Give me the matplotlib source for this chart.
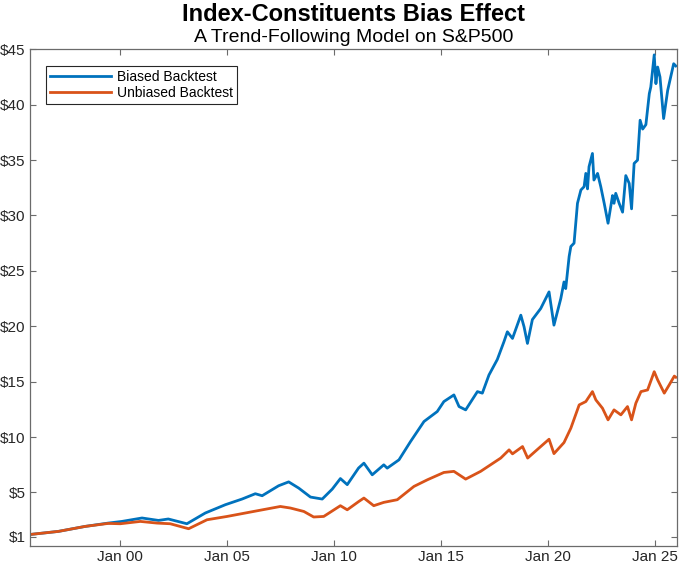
import numpy as np
import matplotlib.pyplot as plt

plt.rcParams['font.family'] = ['Liberation Sans', 'DejaVu Sans']

# values (decimal year, $ growth of $1)
biased_year = [1995.78, 1997.11, 1998.36, 1999.44, 2000.08, 2001.02, 2001.79, 2002.25,
               2003.12, 2003.98, 2004.92, 2005.70, 2006.32, 2006.64, 2007.41, 2007.88,
               2008.35, 2008.90, 2009.45, 2009.92, 2010.30, 2010.62, 2011.15, 2011.40,
               2011.79, 2012.33, 2012.49, 2013.04, 2013.58, 2014.21, 2014.83, 2015.14,
               2015.61, 2015.85, 2016.16, 2016.71, 2016.94, 2017.25, 2017.64, 2017.95,
               2018.11, 2018.35, 2018.74, 2018.89, 2019.05, 2019.28, 2019.67, 2020.06,
               2020.29, 2020.61, 2020.76, 2020.84, 2021.00, 2021.08, 2021.23, 2021.39,
               2021.55, 2021.70, 2021.78, 2021.86, 2021.93, 2022.09, 2022.16, 2022.33,
               2022.48, 2022.64, 2022.82, 2023.03, 2023.10, 2023.18, 2023.34, 2023.50,
               2023.65, 2023.81, 2023.92, 2024.04, 2024.20, 2024.32, 2024.44, 2024.59,
               2024.75, 2024.82, 2024.98, 2025.06, 2025.14, 2025.25, 2025.42, 2025.61,
               2025.89, 2025.99]
biased_value = [1.2, 1.48, 1.93, 2.23, 2.38, 2.69, 2.47, 2.6,
                2.17, 3.14, 3.89, 4.4, 4.88, 4.7, 5.6, 5.95,
                5.39, 4.58, 4.4, 5.3, 6.25, 5.7, 7.2, 7.64,
                6.59, 7.49, 7.19, 7.94, 9.59, 11.4, 12.3, 13.2,
                13.8, 12.75, 12.45, 14.1, 13.96, 15.6, 17.0, 18.6,
                19.5, 18.9, 21.0, 19.96, 18.45, 20.6, 21.6, 23.1,
                20.1, 22.5, 24.0, 23.4, 26.3, 27.2, 27.5, 31.1,
                32.3, 32.6, 33.8, 32.4, 34.4, 35.6, 33.2, 33.8,
                32.6, 31.1, 29.3, 31.8, 31.1, 32.0, 31.1, 30.3,
                33.6, 32.9, 30.6, 34.7, 35.0, 38.6, 37.8, 38.2,
                41.0, 41.6, 44.5, 41.9, 43.4, 42.5, 38.75, 41.3,
                43.7, 43.5]

unbiased_year = [1995.78, 1997.11, 1998.36, 1999.44, 2000.00, 2000.94, 2001.72, 2002.34,
                 2003.20, 2004.06, 2005.00, 2006.24, 2007.49, 2007.96, 2008.59, 2009.05,
                 2009.52, 2010.30, 2010.62, 2011.16, 2011.40, 2011.86, 2012.33, 2012.96,
                 2013.74, 2014.37, 2015.14, 2015.61, 2016.16, 2016.86, 2017.80, 2018.19,
                 2018.35, 2018.82, 2019.06, 2019.67, 2020.06, 2020.29, 2020.76, 2021.08,
                 2021.47, 2021.78, 2022.09, 2022.25, 2022.56, 2022.82, 2023.10, 2023.42,
                 2023.73, 2023.92, 2024.12, 2024.36, 2024.67, 2024.98, 2025.14, 2025.45,
                 2025.68, 2025.92, 2025.99]
unbiased_value = [1.2, 1.48, 1.93, 2.2, 2.17, 2.38, 2.23, 2.17,
                  1.72, 2.53, 2.83, 3.28, 3.73, 3.59, 3.28, 2.78,
                  2.83, 3.8, 3.43, 4.18, 4.49, 3.8, 4.1, 4.34,
                  5.54, 6.14, 6.8, 6.9, 6.2, 6.9, 8.1, 8.84,
                  8.48, 9.14, 8.1, 9.14, 9.8, 8.5, 9.5, 10.8,
                  12.9, 13.2, 14.1, 13.35, 12.6, 11.55, 12.45, 12.0,
                  12.75, 11.55, 13.05, 14.1, 14.25, 15.9, 15.16, 13.96,
                  14.7, 15.5, 15.4]

tick_years = [2000, 2005, 2010, 2015, 2020, 2025]
tick_labels = ['Jan 00', 'Jan 05', 'Jan 10', 'Jan 15', 'Jan 20', 'Jan 25']
y_ticks = [1, 5, 10, 15, 20, 25, 30, 35, 40, 45]

fig = plt.figure(figsize=(6.8, 5.65), dpi=100)
ax = fig.add_axes([0.0441, 0.0336, 0.9510, 0.8791])

ax.plot(biased_year, biased_value, color='#0072BD', lw=2.0, label='Biased Backtest')
ax.plot(unbiased_year, unbiased_value, color='#D95319', lw=2.0, label='Unbiased Backtest')

ax.set_xlim(1995.78, 2026.03)
ax.set_ylim(0.16, 45)
ax.set_xticks(tick_years)
ax.set_xticklabels(tick_labels)
ax.set_yticks(y_ticks)
ax.set_yticklabels(['$%d' % v for v in y_ticks])

ax.tick_params(direction='in', length=4, width=0.8, top=True, right=True,
               labelsize=11, colors='#6b6b6b', labelcolor='#262626', pad=3)
for s in ax.spines.values():
    s.set_color('#6b6b6b')
    s.set_linewidth(0.9)

leg = ax.legend(loc='upper left', bbox_to_anchor=(0.0243, 0.967), borderaxespad=0,
                fontsize=10, handlelength=4.4, handletextpad=0.45, labelspacing=0.15,
                borderpad=0.3, fancybox=False, framealpha=1)
leg.get_frame().set_edgecolor('#262626')
leg.get_frame().set_linewidth(0.8)

fig.text(0.5195, 0.975, 'Index-Constituents Bias Effect', ha='center', va='center',
         fontsize=17, fontweight='bold', color='black')
fig.text(0.5195, 0.934, 'A Trend-Following Model on S&P500', ha='center', va='center',
         fontsize=14, color='black')

fig.savefig('out.png', dpi=100)
